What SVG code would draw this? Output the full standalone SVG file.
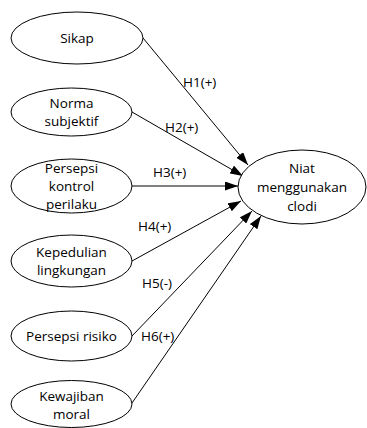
<svg xmlns="http://www.w3.org/2000/svg" width="367" height="428" viewBox="0 0 367 428">
<style>
.n{fill:#fff;stroke:#000;stroke-width:1}
.t{font-family:"Open Sans","Liberation Sans",Arial,sans-serif;font-size:13.5px;fill:#000;text-anchor:middle}
.l{font-family:"Open Sans","Liberation Sans",Arial,sans-serif;font-size:13.5px;fill:#000}
.c{stroke:#000;stroke-width:1;fill:none;marker-end:url(#ah)}
</style>
<defs>
<marker id="ah" markerWidth="13" markerHeight="9" refX="13" refY="4.5" orient="auto" markerUnits="userSpaceOnUse">
<path d="M0,0 L13,4.5 L0,9 Z" fill="#000"/>
</marker>
</defs>
<rect width="367" height="428" fill="#fff"/>
<g id="connectors">
<line class="c" x1="143" y1="38" x2="248" y2="165"/>
<line class="c" x1="132" y1="112" x2="243" y2="176"/>
<line class="c" x1="132" y1="186" x2="238" y2="186"/>
<line class="c" x1="132" y1="261" x2="241" y2="201"/>
<line class="c" x1="132" y1="336" x2="252" y2="211"/>
<line class="c" x1="132" y1="403" x2="261" y2="216"/>
<text class="l" x="183" y="87">H1(+)</text>
<text class="l" x="165" y="132">H2(+)</text>
<text class="l" x="153" y="177">H3(+)</text>
<text class="l" x="138" y="231">H4(+)</text>
<text class="l" x="142" y="288">H5(-)</text>
<text class="l" x="141" y="341">H6(+)</text>
</g>
<g id="sikap">
<ellipse class="n" cx="77" cy="38" rx="66" ry="26"/>
<text class="t" x="77" y="43">Sikap</text>
</g>
<g id="norma">
<ellipse class="n" cx="71.5" cy="112" rx="60.5" ry="24"/>
<text class="t" x="71.5" y="108">Norma</text>
<text class="t" x="71.5" y="126">subjektif</text>
</g>
<g id="persepsi-kontrol">
<ellipse class="n" cx="71.5" cy="186" rx="60.5" ry="27"/>
<text class="t" x="71.5" y="173">Persepsi</text>
<text class="t" x="71.5" y="191">kontrol</text>
<text class="t" x="71.5" y="209">perilaku</text>
</g>
<g id="kepedulian">
<ellipse class="n" cx="71.5" cy="261" rx="60.5" ry="26"/>
<text class="t" x="71.5" y="257">Kepedulian</text>
<text class="t" x="71.5" y="275">lingkungan</text>
</g>
<g id="persepsi-risiko">
<ellipse class="n" cx="71.5" cy="336" rx="60.5" ry="25"/>
<text class="t" x="71.5" y="341">Persepsi risiko</text>
</g>
<g id="kewajiban">
<ellipse class="n" cx="71.5" cy="404" rx="60.5" ry="23.5"/>
<text class="t" x="71.5" y="401">Kewajiban</text>
<text class="t" x="71.5" y="419">moral</text>
</g>
<g id="niat">
<ellipse class="n" cx="302" cy="187" rx="64" ry="37"/>
<text class="t" x="302" y="173">Niat</text>
<text class="t" x="302" y="192">menggunakan</text>
<text class="t" x="302" y="211">clodi</text>
</g>
</svg>
